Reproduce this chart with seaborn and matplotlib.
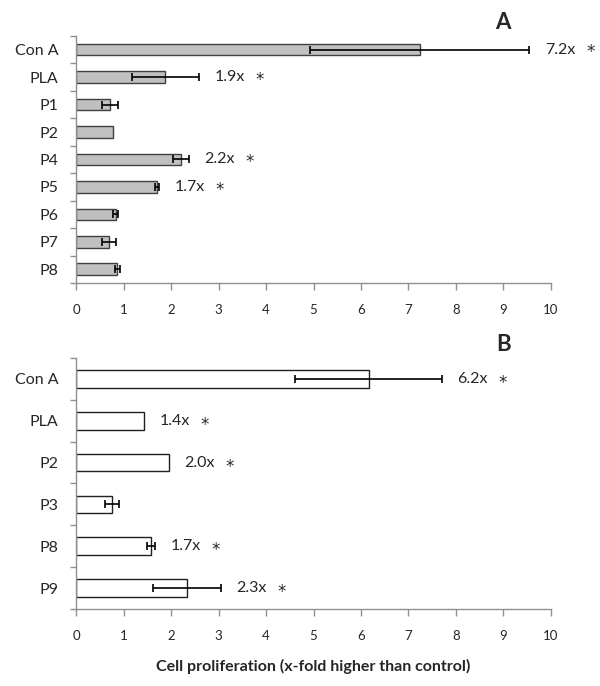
import numpy as np
import pandas as pd
import matplotlib
matplotlib.use('Agg')
import matplotlib.pyplot as plt
import seaborn as sns

# panel A data
cats_a = ['Con A', 'PLA', 'P1', 'P2', 'P4', 'P5', 'P6', 'P7', 'P8']
vals_a = [7.24, 1.88, 0.72, 0.77, 2.2, 1.7, 0.83, 0.69, 0.87]
errs_a = [2.31, 0.70, 0.17, 0.0, 0.17, 0.04, 0.05, 0.15, 0.05]
labels_a = ['7.2x', '1.9x', None, None, '2.2x', '1.7x', None, None, None]

# panel B data
cats_b = ['Con A', 'PLA', 'P2', 'P3', 'P8', 'P9']
vals_b = [6.16, 1.43, 1.95, 0.75, 1.58, 2.33]
errs_b = [1.54, 0.0, 0.0, 0.15, 0.08, 0.72]
labels_b = ['6.2x', '1.4x', '2.0x', None, '1.7x', '2.3x']

xticks = list(range(0, 11))

sns.set_theme(style='white')
plt.rcParams['font.family'] = ['Lato', 'DejaVu Sans']


def draw_panel(ax, cats, vals, errs, labels, fill, edge, letter):
    df = pd.DataFrame({'cat': cats, 'val': vals})
    sns.barplot(data=df, x='val', y='cat', orient='h', color=fill, width=0.42,
                edgecolor=edge, linewidth=1.0, errorbar=None, ax=ax, saturation=1)
    pos = np.arange(len(cats))
    for i, (v, e) in enumerate(zip(vals, errs)):
        if e > 0:
            ax.errorbar(v, i, xerr=e, fmt='none', ecolor='black', elinewidth=1.2,
                        capsize=3, capthick=1.2)
    for i, (v, e, lab) in enumerate(zip(vals, errs, labels)):
        if lab:
            x0 = v + e + 0.33
            ax.text(x0, i, lab, va='center', ha='left', fontsize=11.5)
            ax.text(x0 + 0.95, i + 0.1, '*', va='center', ha='center', fontsize=12,
                    family='DejaVu Sans')
    ax.set_xlim(0, 10)
    ax.set_ylim(len(cats) - 0.5, -0.5)
    ax.set_xticks(xticks)
    ax.set_xticklabels([str(t) for t in xticks], fontsize=9.5)
    ax.set_yticks(pos)
    ax.set_yticklabels(cats, fontsize=11.5)
    ax.set_yticks(np.arange(len(cats) + 1) - 0.5, minor=True)
    ax.tick_params(axis='y', which='major', length=0, pad=13)
    ax.tick_params(axis='y', which='minor', left=True, length=4, color='#909090', width=1)
    ax.tick_params(axis='x', which='major', bottom=True, length=5, color='#909090', width=1, pad=10)
    ax.set_xlabel('')
    ax.set_ylabel('')
    for s in ['top', 'right']:
        ax.spines[s].set_visible(False)
    for s in ['left', 'bottom']:
        ax.spines[s].set_color('#909090')
        ax.spines[s].set_linewidth(1)
    ax.annotate(letter, xy=(0.9, 1.0), xycoords='axes fraction', xytext=(0, 3),
                textcoords='offset pixels', fontsize=16, fontweight='bold',
                ha='center', va='bottom')


fig = plt.figure(figsize=(6, 6.86), dpi=100)
ax_a = fig.add_axes([0.127, 0.5875, 0.791, 0.36])
ax_b = fig.add_axes([0.127, 0.1122, 0.791, 0.366])

draw_panel(ax_a, cats_a, vals_a, errs_a, labels_a, '#c0c0c0', '#404040', 'A')
draw_panel(ax_b, cats_b, vals_b, errs_b, labels_b, 'white', '#202020', 'B')

ax_b.set_xlabel('Cell proliferation (x-fold higher than control)', fontsize=11.5,
                fontweight='bold', labelpad=12)

fig.savefig('out.png', dpi=100)
